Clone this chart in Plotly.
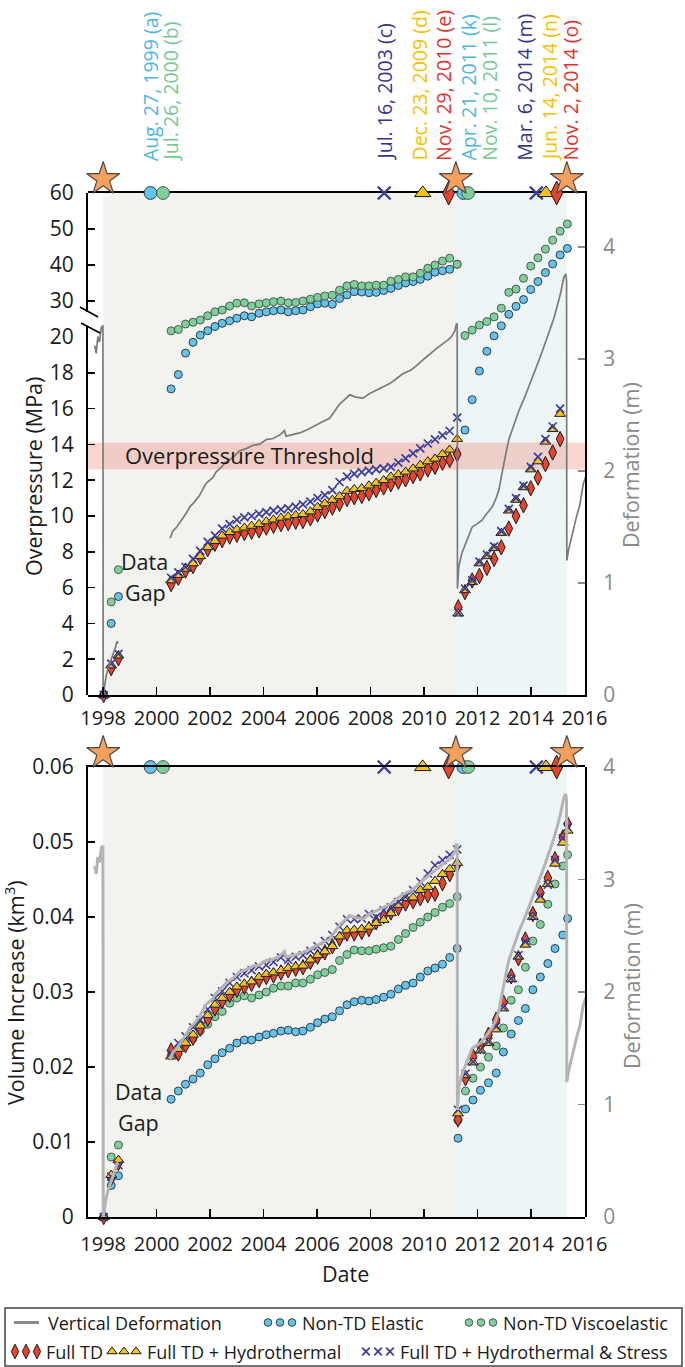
import plotly.graph_objects as go

W, H = 685, 1367

# ------------------------------------------------------------------ data
# sample dates (decimal years)
t_pre = [1998.02, 1998.30, 1998.57]
t_mid = [2000.54, 2000.81, 2001.08, 2001.36, 2001.63, 2001.91, 2002.18, 2002.45, 2002.73, 2003.00,
         2003.28, 2003.55, 2003.83, 2004.10, 2004.37, 2004.65, 2004.92, 2005.20, 2005.47, 2005.75,
         2006.02, 2006.29, 2006.57, 2006.84, 2007.12, 2007.39, 2007.67, 2007.94, 2008.21, 2008.49,
         2008.76, 2009.04, 2009.31, 2009.59, 2009.86, 2010.14, 2010.41, 2010.69, 2010.96, 2011.24]
t_post_top = [2011.28, 2011.53, 2011.80, 2012.07, 2012.35, 2012.62, 2012.89, 2013.17, 2013.44,
              2013.72, 2013.99, 2014.26, 2014.54, 2014.81, 2015.09]
t_post_top_circ = [2011.53, 2011.80, 2012.07, 2012.35, 2012.62, 2012.89, 2013.17, 2013.44, 2013.72,
                   2013.99, 2014.26, 2014.54, 2014.81, 2015.09, 2015.36]
t_post_bot = [2011.27, 2011.55, 2011.83, 2012.11, 2012.41, 2012.70, 2012.97, 2013.26, 2013.53,
              2013.79, 2014.07, 2014.35, 2014.63, 2014.90, 2015.19, 2015.37]

# --- overpressure (MPa), top panel
op_elastic_pre = [0.0, 4.0, 5.5]
op_visco_pre = [0.0, 5.2, 7.0]
op_td_pre = [0.0, 1.5, 2.05]
op_tdh_pre = [0.0, 1.65, 2.2]
op_tdhs_pre = [0.0, 1.75, 2.3]

op_elastic_mid = [17.1, 17.9, 19.1, 19.7, 20.5, 21.75, 22.9, 23.8, 24.5, 25.2,
                  25.9, 25.6, 26.6, 27.0, 27.3, 27.5, 27.0, 27.3, 27.5, 28.4,
                  29.2, 29.4, 29.1, 30.7, 31.7, 32.6, 32.5, 32.3, 32.4, 32.9,
                  33.5, 34.3, 35.0, 35.4, 36.0, 36.9, 38.0, 38.4, 38.8, 40.2]
op_visco_mid = [21.7, 22.1, 23.6, 24.1, 24.7, 25.9, 27.0, 27.5, 28.6, 29.4,
                29.5, 28.6, 29.2, 29.5, 29.8, 30.0, 29.5, 29.6, 30.0, 30.5,
                31.0, 31.4, 31.6, 33.0, 34.2, 34.6, 34.2, 34.2, 34.4, 34.4,
                35.5, 36.0, 36.7, 36.7, 37.7, 39.1, 40.0, 41.1, 41.9, 40.2]
op_td_mid = [6.2, 6.55, 6.95, 7.2, 7.7, 8.15, 8.45, 8.65, 8.85, 8.95,
             9.05, 9.12, 9.2, 9.35, 9.45, 9.55, 9.6, 9.68, 9.72, 9.87,
             10.08, 10.28, 10.47, 10.68, 10.95, 11.05, 11.12, 11.27, 11.45, 11.6,
             11.78, 11.92, 12.05, 12.23, 12.38, 12.6, 12.75, 12.98, 13.13, 13.46]
op_tdh_mid = [6.4, 6.7, 7.05, 7.35, 7.75, 8.25, 8.6, 8.9, 9.1, 9.25,
              9.35, 9.45, 9.55, 9.7, 9.8, 9.9, 9.97, 10.05, 10.1, 10.25,
              10.5, 10.7, 10.9, 11.1, 11.4, 11.5, 11.55, 11.7, 11.85, 12.0,
              12.2, 12.33, 12.47, 12.65, 12.85, 13.05, 13.2, 13.45, 13.7, 14.3]
op_tdhs_mid = [6.55, 6.85, 7.15, 7.6, 8.05, 8.55, 8.9, 9.3, 9.55, 9.78,
               9.92, 10.0, 10.12, 10.22, 10.3, 10.37, 10.43, 10.52, 10.65, 10.8,
               11.0, 11.17, 11.45, 11.9, 12.2, 12.35, 12.45, 12.52, 12.6, 12.66,
               12.75, 12.98, 13.22, 13.5, 13.78, 14.05, 14.28, 14.5, 14.75, 15.5]

op_elastic_post = [14.8, 16.5, 18.1, 19.2, 20.3, 23.1, 26.3, 28.5, 30.4, 33.2, 35.4, 37.9, 40.3, 42.8, 44.6]
op_visco_post = [20.4, 21.9, 23.3, 24.3, 25.6, 28.0, 32.4, 33.3, 36.3, 39.7, 42.0, 44.4, 46.9, 49.4, 51.4]
op_td_post = [4.9, 5.75, 6.4, 6.65, 7.1, 7.6, 8.25, 9.3, 10.0, 10.6, 11.55, 12.15, 12.9, 13.55, 14.3]
op_tdh_post = [4.55, 5.85, 6.3, 7.35, 7.75, 8.2, 9.05, 10.3, 10.9, 11.6, 12.6, 13.05, 14.15, 14.85, 15.7]
op_tdhs_post = [4.6, 5.95, 6.4, 7.45, 7.85, 8.3, 9.15, 10.4, 11.0, 11.7, 12.75, 13.3, 14.3, 15.0, 16.0]

# --- volume increase (km^3), bottom panel
vol_elastic_pre = [0.0, 0.0042, 0.0055]
vol_visco_pre = [0.0, 0.0080, 0.0096]
vol_td_pre = [0.0, 0.0052, 0.0072]
vol_tdh_pre = [0.0, 0.0056, 0.0076]
vol_tdhs_pre = [0.0, 0.0054, 0.0069]

vol_elastic_mid = [0.0157, 0.0168, 0.0177, 0.0184, 0.0192, 0.0203, 0.0211, 0.0219, 0.0225, 0.0232,
                   0.0236, 0.0236, 0.0240, 0.0243, 0.0245, 0.0248, 0.0249, 0.0247, 0.0248, 0.0253,
                   0.0259, 0.0264, 0.0267, 0.0275, 0.0283, 0.0287, 0.0289, 0.0288, 0.0290, 0.0293,
                   0.0297, 0.0304, 0.0309, 0.0312, 0.0320, 0.0328, 0.0332, 0.0337, 0.0346, 0.0358]
vol_visco_mid = [0.0215, 0.0224, 0.0231, 0.0238, 0.0248, 0.0257, 0.0267, 0.0274, 0.0285, 0.0292,
                 0.0295, 0.0292, 0.0296, 0.0300, 0.0305, 0.0308, 0.0308, 0.0312, 0.0312, 0.0317,
                 0.0323, 0.0326, 0.0330, 0.0342, 0.0350, 0.0356, 0.0355, 0.0355, 0.0357, 0.0359,
                 0.0361, 0.0370, 0.0378, 0.0386, 0.0393, 0.0400, 0.0406, 0.0413, 0.0418, 0.0427]
vol_td_mid = [0.0222, 0.0218, 0.0229, 0.0239, 0.0251, 0.0264, 0.0278, 0.0288, 0.0296, 0.0303,
              0.0307, 0.0311, 0.0316, 0.0320, 0.0322, 0.0326, 0.0329, 0.0331, 0.0333, 0.0340,
              0.0347, 0.0353, 0.0361, 0.0371, 0.0378, 0.0378, 0.0380, 0.0384, 0.0393, 0.0401,
              0.0406, 0.0412, 0.0418, 0.0421, 0.0425, 0.0429, 0.0431, 0.0445, 0.0457, 0.0470]
vol_tdh_mid = [0.0214, 0.0224, 0.0232, 0.0243, 0.0255, 0.0269, 0.0283, 0.0292, 0.0300, 0.0307,
               0.0311, 0.0314, 0.0320, 0.0324, 0.0326, 0.0329, 0.0332, 0.0334, 0.0335, 0.0343,
               0.0349, 0.0354, 0.0361, 0.0374, 0.0382, 0.0383, 0.0384, 0.0387, 0.0392, 0.0396,
               0.0405, 0.0416, 0.0425, 0.0426, 0.0436, 0.0440, 0.0448, 0.0457, 0.0464, 0.0472]
vol_tdhs_mid = [0.0218, 0.0232, 0.0241, 0.0253, 0.0263, 0.0277, 0.0292, 0.0301, 0.0312, 0.0320,
                0.0325, 0.0329, 0.0334, 0.0336, 0.0340, 0.0346, 0.0343, 0.0347, 0.0349, 0.0355,
                0.0361, 0.0368, 0.0376, 0.0387, 0.0397, 0.0397, 0.0398, 0.0404, 0.0400, 0.0409,
                0.0413, 0.0420, 0.0427, 0.0436, 0.0447, 0.0458, 0.0469, 0.0476, 0.0483, 0.0490]

vol_elastic_post = [0.0105, 0.0144, 0.0156, 0.0169, 0.0179, 0.0192, 0.0220, 0.0244, 0.0262, 0.0278,
                    0.0303, 0.0320, 0.0338, 0.0358, 0.0376, 0.0398]
vol_visco_post = [0.0129, 0.0168, 0.0185, 0.0200, 0.0213, 0.0228, 0.0252, 0.0289, 0.0303, 0.0333,
                  0.0368, 0.0390, 0.0417, 0.0444, 0.0468, 0.0483]
vol_td_post = [0.0130, 0.0185, 0.0214, 0.0228, 0.0243, 0.0263, 0.0286, 0.0321, 0.0345, 0.0370,
               0.0404, 0.0432, 0.0452, 0.0477, 0.0506, 0.0524]
vol_tdh_post = [0.0138, 0.0189, 0.0206, 0.0222, 0.0232, 0.0250, 0.0278, 0.0317, 0.0347, 0.0363,
                0.0400, 0.0423, 0.0444, 0.0471, 0.0499, 0.0515]
vol_tdhs_post = [0.0143, 0.0191, 0.0207, 0.0223, 0.0234, 0.0254, 0.0280, 0.0318, 0.0349, 0.0367,
                 0.0401, 0.0428, 0.0443, 0.0476, 0.0505, 0.0520]

# --- vertical deformation (m); None marks the data gap
defo_year = [1997.68, 1997.74, 1997.80, 1997.86, 1997.93, 1997.99, 1998.00,
             1998.05, 1998.12, 1998.20, 1998.28, 1998.37, 1998.45, 1998.52, 1998.56,
             None,
             2000.50, 2000.60, 2000.75, 2000.93, 2001.10, 2001.24, 2001.40, 2001.60, 2001.85, 2002.10,
             2002.22, 2002.40, 2002.60, 2002.85, 2003.10, 2003.35, 2003.60, 2003.85, 2004.10, 2004.35,
             2004.60, 2004.78, 2004.84, 2005.00, 2005.35, 2005.65, 2005.95, 2006.20, 2006.47, 2006.70,
             2006.85, 2007.00, 2007.22, 2007.45, 2007.72, 2007.95, 2008.22, 2008.45, 2008.72, 2009.00,
             2009.22, 2009.50, 2009.72, 2010.00, 2010.22, 2010.45, 2010.72, 2010.90, 2011.03, 2011.15,
             2011.22, 2011.24,
             2011.25, 2011.30, 2011.42, 2011.55, 2011.68, 2011.80, 2012.00, 2012.17, 2012.35, 2012.55,
             2012.70, 2012.80, 2012.90, 2012.98, 2013.08, 2013.17, 2013.35, 2013.55, 2013.75, 2013.92,
             2014.10, 2014.30, 2014.50, 2014.67, 2014.85, 2014.98, 2015.10, 2015.23, 2015.30, 2015.33,
             2015.34, 2015.40, 2015.50, 2015.58, 2015.70, 2015.83, 2015.95, 2016.05]
defo_m = [3.12, 3.05, 3.20, 3.15, 3.28, 3.30, 0.00,
          0.08, 0.18, 0.25, 0.30, 0.37, 0.42, 0.48, 0.46,
          None,
          1.40, 1.46, 1.50, 1.56, 1.62, 1.68, 1.72, 1.78, 1.89, 1.94,
          1.99, 2.03, 2.08, 2.12, 2.18, 2.20, 2.23, 2.24, 2.28, 2.29,
          2.32, 2.36, 2.31, 2.32, 2.34, 2.37, 2.41, 2.44, 2.47, 2.55,
          2.60, 2.63, 2.68, 2.66, 2.65, 2.69, 2.72, 2.75, 2.78, 2.83,
          2.87, 2.90, 2.94, 3.00, 3.04, 3.09, 3.14, 3.17, 3.20, 3.25,
          3.32, 3.30,
          0.95, 1.15, 1.27, 1.35, 1.43, 1.50, 1.53, 1.56, 1.62, 1.68,
          1.76, 1.83, 1.96, 2.07, 2.18, 2.28, 2.41, 2.54, 2.65, 2.75,
          2.86, 2.99, 3.12, 3.23, 3.36, 3.47, 3.58, 3.73, 3.76, 3.70,
          1.20, 1.29, 1.38, 1.47, 1.59, 1.70, 1.88, 1.95]

# --- forecast markers on the top frame and eruption stars
frame_elastic_years = [1999.77, 2011.47]
frame_visco_years = [2000.24, 2011.65]
frame_td_years = [2010.92, 2014.96]
frame_tdh_years = [2009.95, 2014.56]
frame_tdhs_years = [2008.51, 2014.20]
eruption_years = [1998.0, 2011.19, 2015.34]

forecast_labels = ["Aug. 27, 1999 (a)", "Jul. 26, 2000 (b)", "Jul. 16, 2003 (c)", "Dec. 23, 2009 (d)",
                   "Nov. 29, 2010 (e)", "Apr. 21, 2011 (k)", "Nov. 10, 2011 (l)", "Mar. 6, 2014 (m)",
                   "Jun. 14, 2014 (n)", "Nov. 2, 2014 (o)"]
forecast_label_kind = ["elastic", "visco", "tdhs", "tdh", "td", "elastic", "visco", "tdhs", "tdh", "td"]

year_ticks = [1998, 2000, 2002, 2004, 2006, 2008, 2010, 2012, 2014, 2016]
op_ticks_low = [0, 2, 4, 6, 8, 10, 12, 14, 16, 18, 20]
op_ticks_high = [30, 40, 50, 60]
vol_ticks = [0, 0.01, 0.02, 0.03, 0.04, 0.05, 0.06]
defo_ticks = [0, 1, 2, 3, 4]

legend_names = {"elastic": "Non-TD Elastic", "visco": "Non-TD Viscoelastic", "td": "Full TD",
                "tdh": "Full TD + Hydrothermal", "tdhs": "Full TD + Hydrothermal & Stress"}

# ------------------------------------------------------------------ style
FONT = "Open Sans"
COL = {"elastic": "#66c2e8", "visco": "#7fcf9d", "td": "#e8432d", "tdh": "#f6c31c", "tdhs": "#3b3b9e"}
LABEL_COL = {"elastic": "#4db6e4", "visco": "#76c995", "td": "#e5332a", "tdh": "#f4c200", "tdhs": "#36368f"}
GRAY_TXT = "#8a8a8a"


def marker(kind, scale=1.0):
    if kind == "elastic":
        return dict(symbol="circle", color=COL[kind], size=8 * scale, line=dict(color="#2c3e48", width=1))
    if kind == "visco":
        return dict(symbol="circle", color=COL[kind], size=8 * scale, line=dict(color="#4a5c4e", width=1))
    if kind == "td":
        return dict(symbol="diamond-tall", color=COL[kind], size=11 * scale, line=dict(color="#1a1a1a", width=1))
    if kind == "tdh":
        return dict(symbol="triangle-up", color=COL[kind], size=9.5 * scale, line=dict(color="#1a1a1a", width=1))
    return dict(symbol="x-thin", color=COL[kind], size=8 * scale, line=dict(color=COL[kind], width=1.7))


def px(X):
    return X / W


def py(Y):
    return 1 - Y / H


fig = go.Figure()

# ------------------------------------------------------------------ top panel
fig.add_trace(go.Scatter(x=defo_year, y=defo_m, mode="lines", xaxis="x", yaxis="y2",
                         line=dict(color="#7b7b7b", width=1.7), connectgaps=False,
                         name="Vertical Deformation", showlegend=False, hoverinfo="skip"))

top_series = {
    "elastic": (t_pre + t_mid + t_post_top_circ, op_elastic_pre + op_elastic_mid + op_elastic_post),
    "visco": (t_pre + t_mid + t_post_top_circ, op_visco_pre + op_visco_mid + op_visco_post),
    "td": (t_pre + t_mid + t_post_top, op_td_pre + op_td_mid + op_td_post),
    "tdh": (t_pre + t_mid + t_post_top, op_tdh_pre + op_tdh_mid + op_tdh_post),
    "tdhs": (t_pre + t_mid + t_post_top, op_tdhs_pre + op_tdhs_mid + op_tdhs_post),
}
for kind in ["elastic", "visco", "td", "tdh", "tdhs"]:
    ts, vs = top_series[kind]
    lo = [(t, v) for t, v in zip(ts, vs) if v <= 20]
    hi = [(t, v) for t, v in zip(ts, vs) if v > 20]
    for pts, yax in ((lo, "y"), (hi, "y3")):
        if not pts:
            continue
        fig.add_trace(go.Scatter(x=[p[0] for p in pts], y=[p[1] for p in pts], mode="markers",
                                 xaxis="x", yaxis=yax, marker=marker(kind), cliponaxis=False,
                                 name=legend_names[kind], showlegend=False))

# ------------------------------------------------------------------ bottom panel
fig.add_trace(go.Scatter(x=defo_year, y=defo_m, mode="lines", xaxis="x2", yaxis="y5",
                         line=dict(color="#b4b4b4", width=3), connectgaps=False,
                         name="Vertical Deformation", showlegend=False, hoverinfo="skip"))
bot_series = {
    "elastic": (t_pre + t_mid + t_post_bot, vol_elastic_pre + vol_elastic_mid + vol_elastic_post),
    "visco": (t_pre + t_mid + t_post_bot, vol_visco_pre + vol_visco_mid + vol_visco_post),
    "td": (t_pre + t_mid + t_post_bot, vol_td_pre + vol_td_mid + vol_td_post),
    "tdh": (t_pre + t_mid + t_post_bot, vol_tdh_pre + vol_tdh_mid + vol_tdh_post),
    "tdhs": (t_pre + t_mid + t_post_bot, vol_tdhs_pre + vol_tdhs_mid + vol_tdhs_post),
}
for kind in ["elastic", "visco", "td", "tdh", "tdhs"]:
    ts, vs = bot_series[kind]
    fig.add_trace(go.Scatter(x=ts, y=vs, mode="markers", xaxis="x2", yaxis="y4",
                             marker=marker(kind), cliponaxis=False,
                             name=legend_names[kind], showlegend=False))

# ------------------------------------------------------------------ frame markers + stars
frame_years = {"elastic": frame_elastic_years, "visco": frame_visco_years, "td": frame_td_years,
               "tdh": frame_tdh_years, "tdhs": frame_tdhs_years}
frame_scale = {"elastic": 1.6, "visco": 1.6, "td": 1.55, "tdh": 1.5, "tdhs": 1.6}
for xa, ya, ytop, ystar_axis in (("x", "y3", 60, "y7"), ("x2", "y4", 0.06, "y8")):
    for kind in ["tdhs", "tdh", "td", "elastic", "visco"]:
        m = marker(kind, frame_scale[kind])
        if kind == "tdhs":
            m["line"]["width"] = 2.2
        fig.add_trace(go.Scatter(x=frame_years[kind], y=[ytop] * len(frame_years[kind]), mode="markers",
                                 xaxis=xa, yaxis=ya, marker=m, cliponaxis=False, showlegend=False))
    # eruption stars sit just above the frame, on a small hidden strip axis
    fig.add_trace(go.Scatter(x=eruption_years, y=[0.5] * len(eruption_years), mode="markers",
                             xaxis=xa, yaxis=ystar_axis, cliponaxis=False, showlegend=False,
                             marker=dict(symbol="star", size=25, color="#f7a05b",
                                         line=dict(color="#4a4a4a", width=1.2))))

# ------------------------------------------------------------------ legend glyphs (hidden pixel axes)
leg_rows = {1: 1322.5, 2: 1351.5}
leg_glyphs = [("elastic", [268, 280, 292], 1), ("visco", [469, 481, 493], 1),
              ("td", [15, 26, 37], 2), ("tdh", [112, 124, 136], 2), ("tdhs", [366, 378, 390], 2)]
for kind, xs, row in leg_glyphs:
    m = marker(kind, 0.95)
    fig.add_trace(go.Scatter(x=xs, y=[leg_rows[row]] * 3, mode="markers", xaxis="x3", yaxis="y6",
                             marker=m, cliponaxis=False, showlegend=False, hoverinfo="skip"))

# ------------------------------------------------------------------ axes
xcommon = dict(domain=[px(88), px(585)], range=[1997.432, 2016.02], tickvals=year_ticks,
               ticks="inside", ticklen=8, tickwidth=1.5, tickcolor="black",
               showline=True, linewidth=2, linecolor="black", mirror=True, automargin=False,
               showgrid=False, zeroline=False, tickfont=dict(size=20, color="#1a1a1a"))
ycommon = dict(ticks="inside", ticklen=7, tickwidth=1.5, tickcolor="black", showline=True,
               linewidth=2, linecolor="black", showgrid=False, zeroline=False, automargin=False,
               tickfont=dict(size=21, color="#1a1a1a"), ticklabelstandoff=8)
ydefo = dict(ticks="inside", ticklen=7, tickwidth=1.5, tickcolor=GRAY_TXT, showline=True,
             linewidth=2, linecolor="black", showgrid=False, zeroline=False, side="right",
             automargin=False, tickfont=dict(size=21, color=GRAY_TXT), tickvals=defo_ticks,
             ticklabelstandoff=12)
hidden = dict(visible=False, automargin=False, fixedrange=True, showgrid=False, zeroline=False)

fig.update_layout(
    xaxis=dict(xcommon, anchor="y2", ticklabelstandoff=4),
    yaxis=dict(ycommon, domain=[py(695), py(337)], range=[0, 20], tickvals=op_ticks_low, anchor="x"),
    yaxis3=dict(ycommon, domain=[py(337), py(193)], range=[20, 60], tickvals=op_ticks_high, anchor="x"),
    yaxis2=dict(ydefo, domain=[py(695), py(193)], range=[0, 4.482], anchor="x"),
    xaxis2=dict(xcommon, anchor="y4", ticklabelstandoff=8),
    yaxis4=dict(ycommon, domain=[py(1217), py(767)], range=[0, 0.06], tickvals=vol_ticks,
                ticktext=["0", "0.01", "0.02", "0.03", "0.04", "0.05", "0.06"], anchor="x2"),
    yaxis5=dict(ydefo, domain=[py(1217), py(767)], range=[0, 4.0], anchor="x2"),
    yaxis7=dict(hidden, domain=[py(200), py(158)], range=[0, 1], anchor="x"),
    yaxis8=dict(hidden, domain=[py(774), py(732)], range=[0, 1], anchor="x2"),
    xaxis3=dict(hidden, domain=[0, 1], range=[0, W], anchor="y6"),
    yaxis6=dict(hidden, domain=[0, 1], range=[H, 0], anchor="x3"),
)

# ------------------------------------------------------------------ shapes
shapes = []
for ytop_px, ybot_px in ((193, 695), (767, 1217)):
    xr = "x" if ytop_px == 193 else "x2"
    shapes.append(dict(type="rect", xref=xr, yref="paper", x0=1998.0, x1=2011.24,
                       y0=py(ybot_px), y1=py(ytop_px), fillcolor="#f2f2ee", line=dict(width=0), layer="below"))
    shapes.append(dict(type="rect", xref=xr, yref="paper", x0=2011.24, x1=2015.35,
                       y0=py(ybot_px), y1=py(ytop_px), fillcolor="#eef5f6", line=dict(width=0), layer="below"))
# overpressure threshold band
shapes.append(dict(type="rect", xref="paper", yref="y", x0=px(88), x1=px(585), y0=12.6, y1=14.1,
                   fillcolor="rgba(235,120,100,0.30)", line=dict(width=0), layer="below"))
# axis break
shapes.append(dict(type="rect", xref="paper", yref="paper", x0=px(84), x1=px(93), y0=py(326), y1=py(312),
                   fillcolor="white", line=dict(width=0), layer="above"))
shapes.append(dict(type="line", xref="paper", yref="paper", x0=px(80), y0=py(307), x1=px(98), y1=py(317),
                   line=dict(color="black", width=1.6), layer="above"))
shapes.append(dict(type="line", xref="paper", yref="paper", x0=px(81), y0=py(323), x1=px(100), y1=py(333),
                   line=dict(color="black", width=1.6), layer="above"))
# legend frame and line glyph
shapes.append(dict(type="rect", xref="paper", yref="paper", x0=px(5), x1=px(682), y0=py(1366), y1=py(1308),
                   fillcolor="rgba(0,0,0,0)", line=dict(color="#444444", width=1.5), layer="above"))
shapes.append(dict(type="line", xref="paper", yref="paper", x0=px(14), x1=px(39), y0=py(1322.5), y1=py(1322.5),
                   line=dict(color="#8a8a8a", width=3), layer="above"))

# ------------------------------------------------------------------ annotations
ann = []
label_x_px = [150.7, 170.4, 384.0, 418.5, 443.4, 467.5, 489.3, 524.2, 549.6, 570.1]
for txt_, kind, xp in zip(forecast_labels, forecast_label_kind, label_x_px):
    ann.append(dict(text=txt_, x=px(xp), y=py(163), xref="paper", yref="paper", xanchor="center",
                    yanchor="bottom", textangle=-90, showarrow=False,
                    font=dict(size=19.5, color=LABEL_COL[kind], family=FONT)))


def txt(t, X, Y, size=21, color="#1a1a1a", angle=0, xanchor="center"):
    return dict(text=t, x=px(X), y=py(Y), xref="paper", yref="paper", xanchor=xanchor, yanchor="middle",
                textangle=angle, showarrow=False, font=dict(size=size, color=color, family=FONT))


ann += [
    txt("Overpressure Threshold", 123, 455, size=22, xanchor="left"),
    txt("Data", 144, 562, size=21.5), txt("Gap", 145, 592, size=21.5),
    txt("Data", 138, 1091, size=21.5), txt("Gap", 138, 1122, size=21.5),
    txt("Overpressure (MPa)", 33, 477, size=21.5, angle=-90),
    txt("Deformation (m)", 631, 465, size=21.5, color=GRAY_TXT, angle=-90),
    txt("Volume Increase (km<sup>3</sup>)", 14, 993, size=21.5, angle=-90),
    txt("Deformation (m)", 631, 986, size=21.5, color=GRAY_TXT, angle=-90),
    txt("Date", 345, 1273, size=21.5),
    txt("Vertical Deformation", 46, 1322.5, size=18, xanchor="left"),
    txt(legend_names["elastic"], 300, 1322.5, size=18, xanchor="left"),
    txt(legend_names["visco"], 501, 1322.5, size=18, xanchor="left"),
    txt(legend_names["td"], 44, 1351.5, size=18, xanchor="left"),
    txt(legend_names["tdh"], 145, 1351.5, size=18, xanchor="left"),
    txt(legend_names["tdhs"], 398, 1351.5, size=18, xanchor="left"),
]

fig.update_layout(
    width=W, height=H, autosize=False,
    margin=dict(l=0, r=0, t=0, b=0, pad=0, autoexpand=False),
    paper_bgcolor="white", plot_bgcolor="rgba(0,0,0,0)",
    font=dict(family=FONT, size=20, color="#1a1a1a"),
    showlegend=False, shapes=shapes, annotations=ann,
)

# remove the browser's default page margin so the 685x1367 figure fills the window exactly
fig.write_html("out.html",
               config={"displayModeBar": False, "staticPlot": True},
               post_script="document.body.style.margin='0px';document.body.style.padding='0px';"
                           "document.documentElement.style.overflow='hidden';")
